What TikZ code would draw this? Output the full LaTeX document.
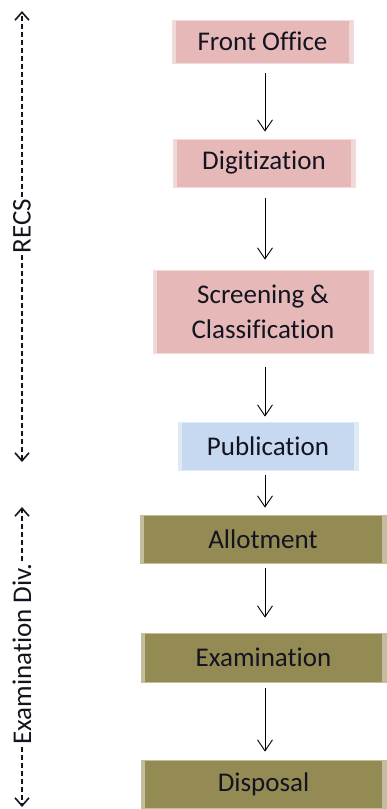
\documentclass[tikz,border=0pt]{standalone}
\usepackage{fontspec}
\setmainfont{Carlito}[Ligatures=NoCommon]
\usetikzlibrary{arrows.meta}
\definecolor{recsfill}{RGB}{230,185,184}
\definecolor{recsline}{RGB}{242,220,219}
\definecolor{pubfill}{RGB}{198,217,241}
\definecolor{publine}{RGB}{222,234,248}
\definecolor{divfill}{RGB}{148,138,84}
\definecolor{divline}{RGB}{196,189,151}
\definecolor{inkdark}{RGB}{20,20,32}
\begin{document}
\begin{tikzpicture}[x=1pt, y=-1pt,
  box/.style={draw, line width=0.8pt, inner sep=0pt, align=center,
    text=inkdark, font=\fontsize{27}{35}\selectfont,
    path picture={
      \fill[white, opacity=0.45] (path picture bounding box.south west)
        rectangle ([xshift=4pt]path picture bounding box.north west);
      \fill[white, opacity=0.45] (path picture bounding box.south east)
        rectangle ([xshift=-4pt]path picture bounding box.north east);}},
  recsbox/.style={box, fill=recsfill, draw=recsline},
  pubbox/.style={box, fill=pubfill, draw=publine},
  divbox/.style={box, fill=divfill, draw=divline},
  flow/.style={-{Straight Barb[length=11pt, width=15pt]}, line width=0.9pt},
  side/.style={-{Straight Barb[length=8pt, width=14pt, line width=1.6pt]},
    dash pattern=on 5pt off 3pt, line width=1.4pt, inkdark},
  sidelabel/.style={rotate=90, inner sep=2pt, text=inkdark,
    font=\fontsize{27}{30}\selectfont}]
  \useasboundingbox (0,0) rectangle (386,809);
  % RECS boxes
  \node[recsbox, minimum width=181pt, minimum height=43pt] (front) at (262.5,41.5) {Front Office};
  \node[recsbox, minimum width=182pt, minimum height=48pt] (digit) at (264,163) {Digitization};
  \node[recsbox, minimum width=220pt, minimum height=83pt] (screen) at (263,311.5) {Screening \&\\Classification};
  \node[pubbox, minimum width=180pt, minimum height=48pt] (pub) at (268,446) {Publication};
  % Examination Div. boxes
  \node[divbox, minimum width=246pt, minimum height=48pt] (allot) at (263,539) {Allotment};
  \node[divbox, minimum width=245pt, minimum height=49pt] (exam) at (263.5,657.5) {Examination};
  \node[divbox, minimum width=245pt, minimum height=48pt] (disp) at (263.5,784) {Disposal};
  % flow arrows
  \coordinate (ax) at (265,0);
  \draw[flow, shorten <=10pt, shorten >=7pt] (front.south -| ax) -- (digit.north -| ax);
  \draw[flow, shorten <=11pt, shorten >=10pt] (digit.south -| ax) -- (screen.north -| ax);
  \draw[flow, shorten <=14pt, shorten >=5pt] (screen.south -| ax) -- (pub.north -| ax);
  \draw[flow, shorten <=5pt, shorten >=7pt] (pub.south -| ax) -- (allot.north -| ax);
  \draw[flow, shorten <=5pt, shorten >=15pt] (allot.south -| ax) -- (exam.north -| ax);
  \draw[flow, shorten <=6pt, shorten >=8pt] (exam.south -| ax) -- (disp.north -| ax);
  % side brackets
  \coordinate (recsT) at (22,11);
  \coordinate (recsB) at (22,462);
  \node[sidelabel] (recs) at (22,226) {RECS};
  \draw[side] (recs.east) -- (recsT);
  \draw[side] (recs.west) -- (recsB);
  \coordinate (divT) at (22,507);
  \coordinate (divB) at (22,807);
  \node[sidelabel] (div) at (22,654) {Examination Div.};
  \draw[side] (div.east) -- (divT);
  \draw[side] (div.west) -- (divB);
\end{tikzpicture}
\end{document}
